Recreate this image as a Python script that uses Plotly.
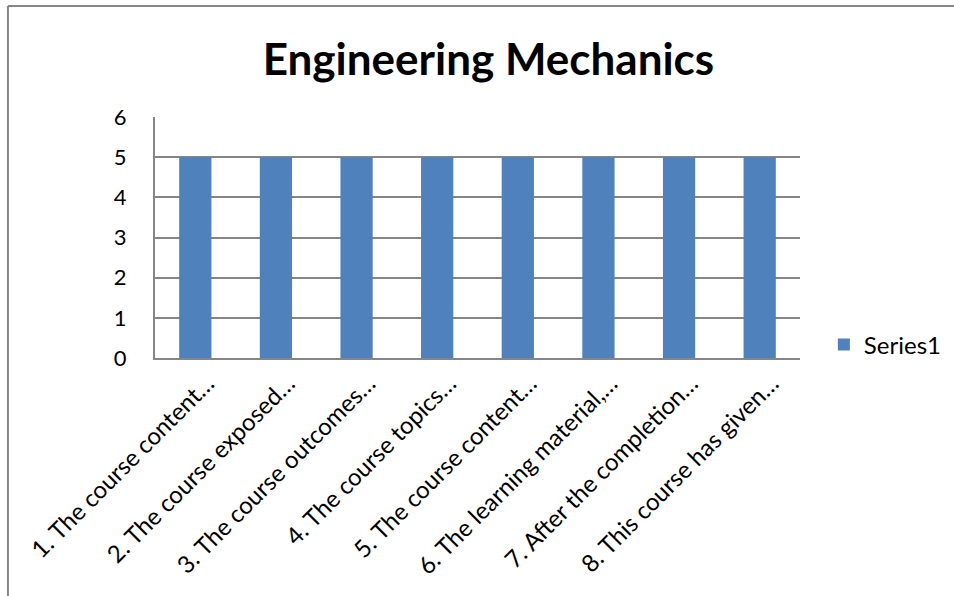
import plotly.graph_objects as go

categories = [
    "1. The course content…",
    "2. The course exposed…",
    "3. The course outcomes…",
    "4. The course topics…",
    "5. The course content…",
    "6. The learning material,…",
    "7. After the completion…",
    "8. This course has given…",
]
values = [5, 5, 5, 5, 5, 5, 5, 5]
series_name = "Series1"
title_text = "Engineering Mechanics"
y_ticks = [0, 1, 2, 3, 4, 5, 6]

FONT = "Lato, Noto Sans, sans-serif"
GRID = "#868686"

fig = go.Figure()
fig.add_trace(go.Bar(
    x=categories, y=values, name=series_name,
    marker=dict(color="#4F81BD", line=dict(width=0)),
    showlegend=True,
))

fig.update_layout(
    width=954, height=596,
    margin=dict(l=155, r=154, t=117, b=238, autoexpand=False),
    paper_bgcolor="white", plot_bgcolor="white",
    bargap=0.6,
    font=dict(family=FONT, size=20, color="black"),
    title=dict(text="<b>" + title_text + "</b>", x=0.512, xref="container", xanchor="center",
               y=0.9, yref="container", yanchor="middle",
               font=dict(family=FONT, size=44, color="black")),
    xaxis=dict(tickangle=-45, showline=True, linecolor=GRID, linewidth=2,
               ticks="", showgrid=False, tickfont=dict(size=24),
               ticklabelstandoff=0, ticklabelshift=12),
    yaxis=dict(range=[0, 6], tickvals=y_ticks, showline=True, linecolor=GRID, linewidth=2,
               gridcolor=GRID, gridwidth=2, ticks="", zeroline=False,
               tickfont=dict(size=22), ticklabelstandoff=22),
    legend=dict(x=1.037, y=0.054, xanchor="left", yanchor="middle",
                font=dict(size=24), bgcolor="rgba(0,0,0,0)"),
    shapes=[
        dict(type="line", xref="paper", yref="paper", x0=-0.228, x1=1.25, y0=1.4606, y1=1.4606,
             line=dict(color=GRID, width=2)),
        dict(type="line", xref="paper", yref="paper", x0=-0.228, x1=-0.228, y0=1.4606, y1=-1.0,
             line=dict(color=GRID, width=2)),
    ],
)

fig.write_html("out.html", config={"displayModeBar": False},
               post_script="document.body.style.margin='0';document.body.style.overflow='hidden';")
